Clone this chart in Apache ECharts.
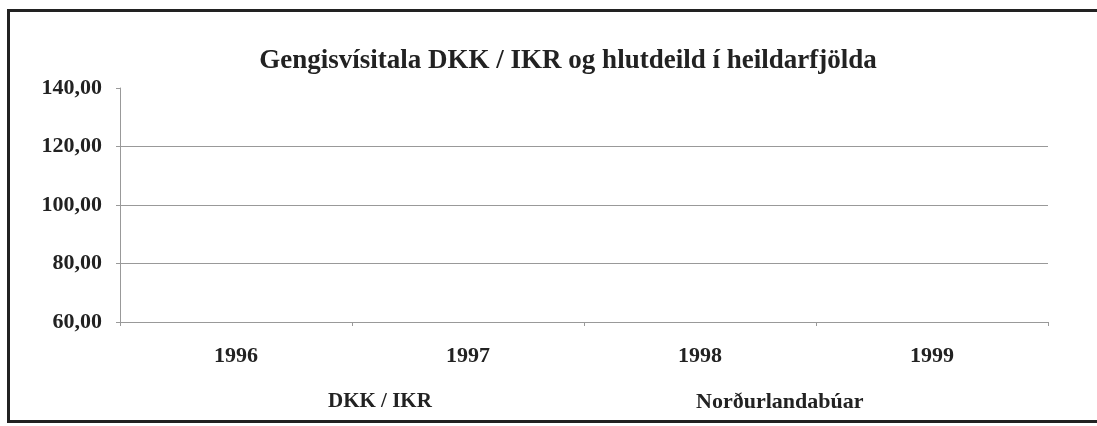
<!DOCTYPE html>
<html>
<head>
<meta charset="utf-8">
<script src="https://cdn.jsdelivr.net/npm/echarts@6/dist/echarts.min.js"></script>
<style>
html, body { margin: 0; padding: 0; background: #fff; overflow: hidden; }
#container { width: 1097px; height: 426px; }
#frame {
    position: absolute; left: 7px; top: 9px; width: 1100px; height: 408px;
    border-left: 3px solid #222; border-top: 3px solid #222; border-bottom: 3px solid #222;
    pointer-events: none;
}
</style>
</head>
<body>
<div id="container"></div>
<div id="frame"></div>
<script>
// ár á x-ási
var years = ['1996', '1997', '1998', '1999'];
// engin gildi sjáanleg á myndinni
var dkkIkr = [null, null, null, null];
var nordurlandabuar = [null, null, null, null];
var yTicks = [60, 80, 100, 120, 140];

var fontFam = '"Liberation Serif", "DejaVu Serif", serif';
var txt = '#222';

var myChart = echarts.init(document.getElementById('container'));

var option = {
    animation: false,
    title: {
        text: 'Gengisvísitala DKK / IKR og hlutdeild í heildarfjölda',
        left: 563,
        textAlign: 'center',
        top: 43,
        textStyle: { fontFamily: fontFam, fontWeight: 'bold', fontSize: 27, color: txt }
    },
    legend: [{
        data: ['DKK / IKR'],
        left: 317, top: 386,
        itemWidth: 0, itemHeight: 0,
        textStyle: { fontFamily: fontFam, fontWeight: 'bold', fontSize: 21, color: txt }
    }, {
        data: ['Norðurlandabúar'],
        left: 685, top: 386,
        itemWidth: 0, itemHeight: 0,
        textStyle: { fontFamily: fontFam, fontWeight: 'bold', fontSize: 22, color: txt }
    }],
    grid: { left: 120, right: 49, top: 88, bottom: 104 },
    xAxis: {
        type: 'category',
        data: years,
        boundaryGap: true,
        axisLine: { lineStyle: { color: '#999', width: 1 } },
        axisTick: { show: true, length: 4, lineStyle: { color: '#999' } },
        axisLabel: {
            margin: 23,
            fontFamily: fontFam, fontWeight: 'bold', fontSize: 22, color: txt
        }
    },
    yAxis: {
        type: 'value',
        min: yTicks[0],
        max: yTicks[yTicks.length - 1],
        interval: 20,
        axisLine: { show: true, lineStyle: { color: '#999', width: 1 } },
        axisTick: { show: true, length: 4, lineStyle: { color: '#999' } },
        splitLine: {
            lineStyle: {
                color: ['#999', '#999', '#999', '#999', 'rgba(0,0,0,0)'],
                width: 1
            }
        },
        axisLabel: {
            margin: 18,
            fontFamily: fontFam, fontWeight: 'bold', fontSize: 22, color: txt,
            formatter: function(v) { return v.toFixed(2).replace('.', ','); }
        }
    },
    series: [{
        name: 'DKK / IKR',
        type: 'line',
        data: dkkIkr,
        symbol: 'none',
        lineStyle: { color: '#222' },
        itemStyle: { color: '#222' }
    }, {
        name: 'Norðurlandabúar',
        type: 'line',
        data: nordurlandabuar,
        symbol: 'none',
        lineStyle: { color: '#666' },
        itemStyle: { color: '#666' }
    }]
};

myChart.setOption(option, true);
</script>
</body>
</html>
